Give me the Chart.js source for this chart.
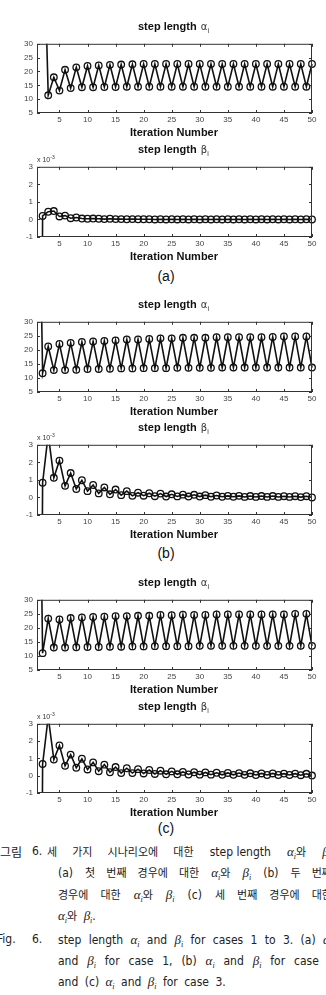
<!DOCTYPE html>
<html>
<head>
<meta charset="utf-8">
<script src="https://cdn.jsdelivr.net/npm/chart.js@4.4.1/dist/chart.umd.min.js"></script>
<style>
    html, body { margin: 0; padding: 0; background: #fff; }
    body {
        width: 326px; height: 995px; overflow: hidden; position: relative;
        font-family: "Liberation Sans", Arial, sans-serif; color: #111;
    }
    .panel { position: absolute; left: 0; }
    .panel canvas { display: block; }
    .title, .xlabel {
        position: absolute; font-weight: bold; font-size: 11px;
        white-space: nowrap; line-height: 14px;
    }
    .title { left: 138px; }
    .xlabel { left: 174px; transform: translateX(-50%); }
    .greek { font-weight: normal; font-family: "DejaVu Sans", sans-serif; font-size: 10px; color: #333; margin-left: 1px; }
    .title sub { font-weight: normal; font-size: 7px; vertical-align: -3px; color: #333; }
    .exp { position: absolute; left: 37px; font-size: 7px; line-height: 8px; color: #333; white-space: nowrap; }
    .exp sup { font-size: 5px; vertical-align: 3px; }
    .sublabel { position: absolute; left: 166px; transform: translateX(-50%); font-size: 14px; line-height: 16px; }
    .cap {
        position: absolute; font-family: "Liberation Sans Narrow", "DejaVu Sans Condensed", sans-serif;
        font-size: 12px; line-height: 21px; white-space: nowrap; color: #222;
    }
    .just { white-space: normal; text-align: justify; text-align-last: justify; height: 21px; }
    .tight { display: inline-block; }
    .k { font-family: "Noto Sans CJK KR", sans-serif; font-size: 11px; }
    .m { font-family: "Liberation Serif", serif; font-style: italic; font-size: 13px; }
    .m sub { font-size: 8px; vertical-align: -3px; }
</style>
</head>
<body>

<div class="sublabel" style="top:268px">(a)</div>
<div class="sublabel" style="top:545px">(b)</div>
<div class="sublabel" style="top:820px">(c)</div>

<div class="cap k" style="left:0;top:841px;font-size:12px">그림</div>
<div class="cap" style="left:32px;top:841px">6.</div>
<div class="cap just" style="left:47px;top:841px;width:284px"><span class="k">세 가지 시나리오에 대한</span> <span class="tight">step length</span> <i class="m">α<sub>i</sub></i><span class="k">와</span> <i class="m">β<sub>i</sub></i></div>
<div class="cap just" style="left:58px;top:862px;width:274px">(a) <span class="k">첫 번째 경우에 대한</span> <i class="m">α<sub>i</sub></i><span class="k">와</span> <i class="m">β<sub>i</sub></i> (b) <span class="k">두 번째</span></div>
<div class="cap just" style="left:58px;top:884px;width:274px"><span class="k">경우에 대한</span> <i class="m">α<sub>i</sub></i><span class="k">와</span> <i class="m">β<sub>i</sub></i> (c) <span class="k">세 번째 경우에 대한</span></div>
<div class="cap" style="left:58px;top:905px;word-spacing:3px"><i class="m">α<sub>i</sub></i><span class="k">와</span> <i class="m">β<sub>i</sub></i>.</div>
<div class="cap" style="left:-3px;top:929px">Fig.</div>
<div class="cap" style="left:32px;top:929px">6.</div>
<div class="cap just" style="left:58px;top:929px;width:274px">step length <i class="m">α<sub>i</sub></i> and <i class="m">β<sub>i</sub></i> for cases 1 to 3. (a) <i class="m">α<sub>i</sub></i></div>
<div class="cap just" style="left:58px;top:950px;width:280px">and <i class="m">β<sub>i</sub></i> for case 1, (b) <i class="m">α<sub>i</sub></i> and <i class="m">β<sub>i</sub></i> for case 2,</div>
<div class="cap" style="left:58px;top:971px;word-spacing:3px">and (c) <i class="m">α<sub>i</sub></i> and <i class="m">β<sub>i</sub></i> for case 3.</div>

<script>
/* ==========================================
   Data (beta in units of 1e-3)
========================================== */

const iterations = [
    1, 2, 3, 4, 5, 6, 7, 8, 9, 10,
    11, 12, 13, 14, 15, 16, 17, 18, 19, 20,
    21, 22, 23, 24, 25, 26, 27, 28, 29, 30,
    31, 32, 33, 34, 35, 36, 37, 38, 39, 40,
    41, 42, 43, 44, 45, 46, 47, 48, 49, 50
];

const xTickValues = [5, 10, 15, 20, 25, 30, 35, 40, 45, 50];
const alphaTickValues = [5, 10, 15, 20, 25, 30];
const betaTickValues = [-1, 0, 1, 2, 3];

const alphaCase1 = [
    null, 86, 11.4, 17.9, 13.1, 20.6, 14.0, 21.5, 14.3, 22.0,
    14.3, 22.2, 14.4, 22.4, 14.4, 22.5, 14.5, 22.6, 14.5, 22.7,
    14.5, 22.7, 14.5, 22.7, 14.5, 22.7, 14.5, 22.7, 14.5, 22.7,
    14.5, 22.7, 14.5, 22.7, 14.5, 22.7, 14.5, 22.7, 14.5, 22.7,
    14.5, 22.7, 14.5, 22.7, 14.5, 22.7, 14.5, 22.7, 14.5, 22.7
];

const betaCase1 = [
    -50, 0.20, 0.44, 0.48, 0.17, 0.22, 0.07, 0.11, 0.05, 0.04,
    0.05, 0.04, 0.02, 0.04, 0.02, 0.02, 0.01, 0.02, 0.01, 0.01,
    0.01, 0.00, 0.01, 0.00, 0.01, 0.00, 0.01, 0.00, 0.01, 0.00,
    0.01, 0.00, 0.01, 0.00, 0.01, 0.00, 0.01, 0.00, 0.01, 0.00,
    0.01, 0.00, 0.01, 0.00, 0.01, 0.00, 0.01, 0.00, 0.01, 0.00
];

const alphaCase2 = [
    130, 11.7, 21.2, 12.8, 22.1, 12.8, 22.5, 12.9, 22.8, 13.2,
    23.0, 13.2, 23.2, 13.3, 23.4, 13.4, 23.7, 13.4, 23.7, 13.5,
    23.9, 13.5, 24.1, 13.5, 24.1, 13.6, 24.3, 13.6, 24.3, 13.6,
    24.3, 13.6, 24.5, 13.7, 24.5, 13.7, 24.5, 13.7, 24.5, 13.7,
    24.5, 13.7, 24.6, 13.7, 24.8, 13.7, 24.8, 13.7, 24.8, 13.7
];

const betaCase2 = [
    -50, 0.84, 3.6, 1.12, 2.1, 0.66, 1.39, 0.48, 0.98, 0.36,
    0.71, 0.23, 0.57, 0.18, 0.45, 0.13, 0.36, 0.09, 0.27, 0.10,
    0.24, 0.07, 0.22, 0.05, 0.18, 0.06, 0.16, 0.05, 0.15, 0.05,
    0.13, 0.04, 0.11, 0.04, 0.09, 0.04, 0.09, 0.03, 0.08, 0.03,
    0.08, 0.03, 0.08, 0.03, 0.07, 0.03, 0.07, 0.02, 0.07, 0.00
];

const alphaCase3 = [
    160, 11.0, 23.3, 13.0, 23.0, 13.0, 23.5, 13.1, 23.7, 13.2,
    23.9, 13.2, 24.0, 13.3, 24.2, 13.3, 24.2, 13.4, 24.3, 13.4,
    24.3, 13.5, 24.6, 13.5, 24.5, 13.5, 24.7, 13.5, 24.6, 13.6,
    24.6, 13.6, 24.8, 13.6, 24.8, 13.6, 24.8, 13.6, 24.8, 13.6,
    24.8, 13.6, 24.8, 13.6, 24.8, 13.6, 25.0, 13.6, 25.0, 13.6
];

const betaCase3 = [
    -50, 0.68, 3.4, 0.93, 1.75, 0.57, 1.22, 0.46, 0.98, 0.36,
    0.77, 0.26, 0.64, 0.20, 0.50, 0.15, 0.43, 0.15, 0.38, 0.13,
    0.33, 0.10, 0.29, 0.08, 0.25, 0.08, 0.22, 0.07, 0.20, 0.06,
    0.19, 0.06, 0.17, 0.05, 0.16, 0.05, 0.15, 0.05, 0.14, 0.04,
    0.13, 0.04, 0.13, 0.04, 0.12, 0.04, 0.12, 0.03, 0.11, 0.01
];

/* ==========================================
   Panel layout (box top / height in page px)
========================================== */

const panels = [
    { symbol: 'α', values: alphaCase1, ticks: alphaTickValues, top: 41,  height: 72 },
    { symbol: 'β', values: betaCase1,  ticks: betaTickValues,  top: 164, height: 73 },
    { symbol: 'α', values: alphaCase2, ticks: alphaTickValues, top: 319, height: 73 },
    { symbol: 'β', values: betaCase2,  ticks: betaTickValues,  top: 442, height: 73 },
    { symbol: 'α', values: alphaCase3, ticks: alphaTickValues, top: 597, height: 73 },
    { symbol: 'β', values: betaCase3,  ticks: betaTickValues,  top: 721, height: 72 }
];

const PAD_TOP = 6;
const Y_AXIS_W = 37;
const X_AXIS_H = 14;

// MATLAB style box with inward tick marks on all four sides
const matlabBox = {
    id: 'matlabBox',
    afterDraw: function (chart) {
        const ctx = chart.ctx;
        const area = chart.chartArea;
        const xScale = chart.scales.x;
        const yScale = chart.scales.y;

        ctx.save();
        ctx.strokeStyle = '#333';
        ctx.lineWidth = 1;
        ctx.strokeRect(area.left + .5, area.top + .5, area.right - area.left - 1, area.bottom - area.top - 1);

        ctx.beginPath();
        xScale.ticks.forEach(function (tick) {
            const px = Math.round(xScale.getPixelForValue(tick.value)) + .5;
            ctx.moveTo(px, area.bottom);
            ctx.lineTo(px, area.bottom - 3);
            ctx.moveTo(px, area.top);
            ctx.lineTo(px, area.top + 3);
        });
        yScale.ticks.forEach(function (tick) {
            const py = Math.round(yScale.getPixelForValue(tick.value)) + .5;
            ctx.moveTo(area.left, py);
            ctx.lineTo(area.left + 3, py);
            ctx.moveTo(area.right, py);
            ctx.lineTo(area.right - 3, py);
        });
        ctx.stroke();
        ctx.restore();
    }
};

function fixedTicks(values) {
    return function (axis) {
        axis.ticks = values.map(function (v) {
            return { value: v };
        });
    };
}

Chart.defaults.font.family = '"Liberation Sans", Arial, sans-serif';

panels.forEach(function (panel) {

    const wrap = document.createElement('div');
    wrap.className = 'panel';
    wrap.style.top = (panel.top - PAD_TOP) + 'px';

    const canvas = document.createElement('canvas');
    canvas.width = 326;
    canvas.height = panel.height + PAD_TOP + X_AXIS_H;
    wrap.appendChild(canvas);
    document.body.appendChild(wrap);

    const title = document.createElement('div');
    title.className = 'title';
    title.style.top = (panel.top - 22) + 'px';
    title.innerHTML = 'step length<span class="greek"> ' + panel.symbol + '</span><sub>i</sub>';
    document.body.appendChild(title);

    const xlabel = document.createElement('div');
    xlabel.className = 'xlabel';
    xlabel.style.top = (panel.top + panel.height + 12) + 'px';
    xlabel.textContent = 'Iteration Number';
    document.body.appendChild(xlabel);

    if (panel.symbol === 'β') {
        const exp = document.createElement('div');
        exp.className = 'exp';
        exp.style.top = (panel.top - 11) + 'px';
        exp.innerHTML = 'x 10<sup>-3</sup>';
        document.body.appendChild(exp);
    }

    const yMin = panel.ticks[0];
    const yMax = panel.ticks[panel.ticks.length - 1];

    new Chart(canvas, {

        type: 'line',

        data: {
            datasets: [
                {
                    data: iterations.map(function (it, i) {
                        return { x: it, y: panel.values[i] };
                    }),
                    borderColor: '#111',
                    borderWidth: 1.6,
                    pointRadius: 3.3,
                    pointBorderWidth: 1.3,
                    pointBorderColor: '#111',
                    pointBackgroundColor: 'rgba(255,255,255,0)',
                    tension: 0,
                    spanGaps: false,
                    clip: { left: 6, right: 6, top: 0, bottom: 0 }
                }
            ]
        },

        options: {
            responsive: false,
            animation: false,
            layout: {
                padding: { top: PAD_TOP, right: 14, bottom: 0, left: 0 }
            },
            plugins: {
                legend: { display: false },
                tooltip: { enabled: false }
            },
            scales: {
                x: {
                    type: 'linear',
                    min: 1,
                    max: 50,
                    afterBuildTicks: fixedTicks(xTickValues),
                    afterFit: function (scale) { scale.height = X_AXIS_H; },
                    grid: { display: false, drawTicks: false },
                    border: { display: false },
                    ticks: {
                        padding: 2,
                        color: '#444',
                        autoSkip: false,
                        maxRotation: 0,
                        font: { size: 8 }
                    }
                },
                y: {
                    min: yMin,
                    max: yMax,
                    afterBuildTicks: fixedTicks(panel.ticks),
                    afterFit: function (scale) { scale.width = Y_AXIS_W; },
                    grid: { display: false, drawTicks: false },
                    border: { display: false },
                    ticks: {
                        padding: 4,
                        color: '#444',
                        font: { size: 8 }
                    }
                }
            }
        },

        plugins: [matlabBox]

    });

});
</script>
</body>
</html>
